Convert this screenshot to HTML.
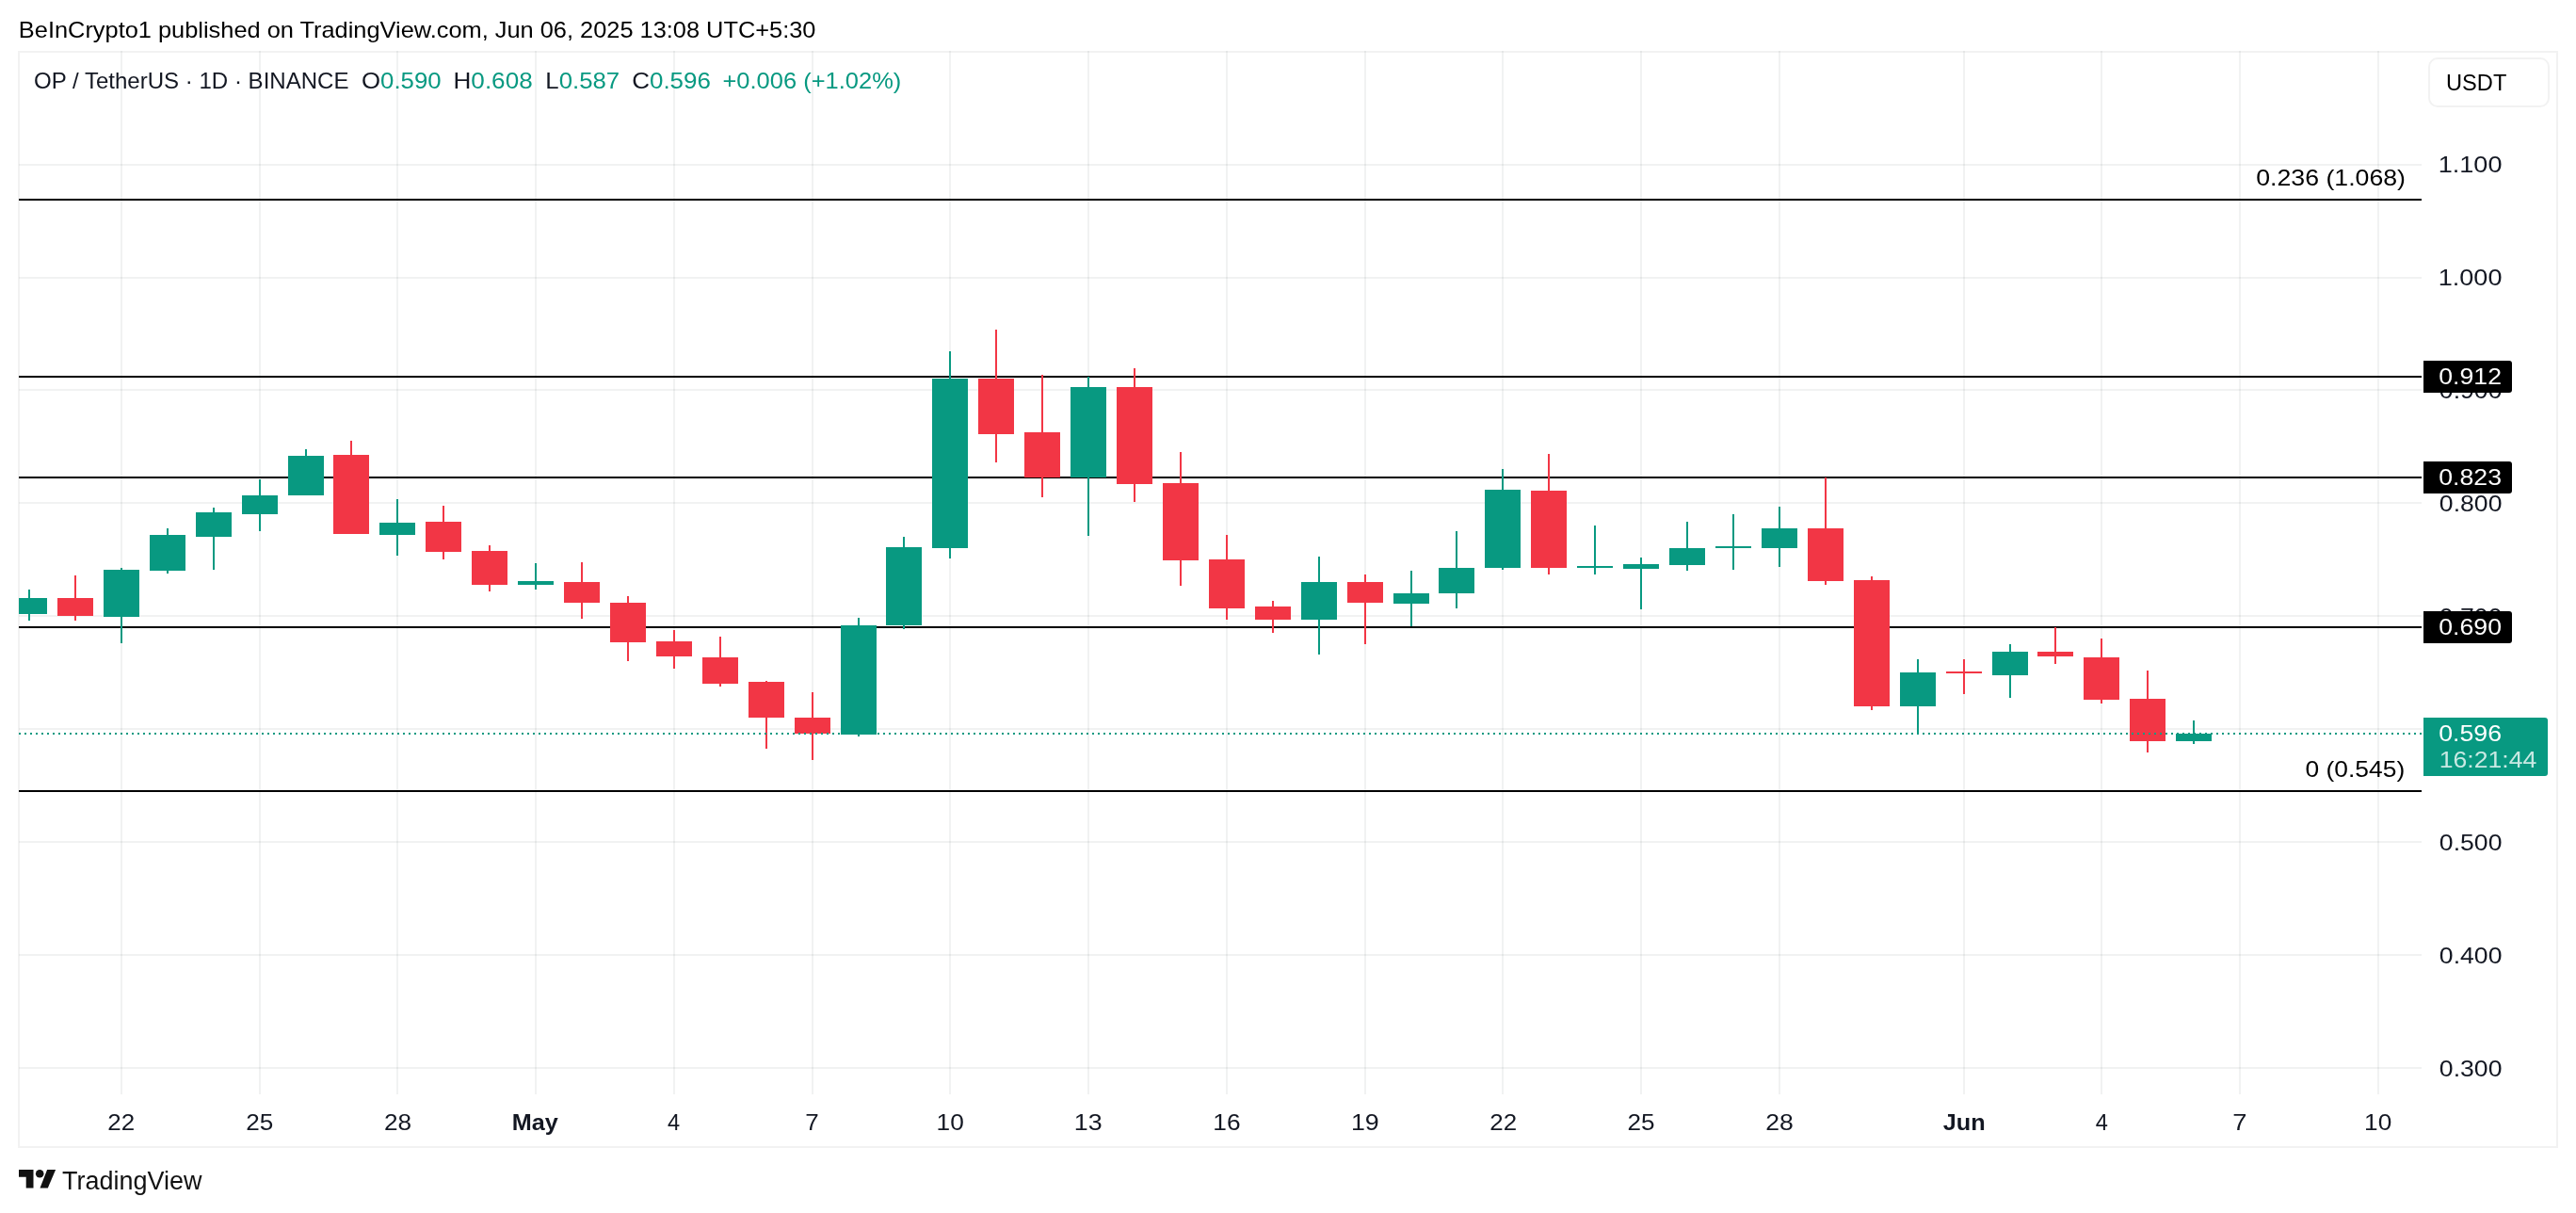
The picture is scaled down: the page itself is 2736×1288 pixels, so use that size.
<!DOCTYPE html><html><head><meta charset="utf-8"><title>OP / TetherUS chart</title>
<style>html,body{margin:0;padding:0;background:#fff;}body{width:2736px;height:1288px;overflow:hidden;}svg{will-change:transform;display:block;font-family:"Liberation Sans",sans-serif;}</style></head><body>
<svg width="2736" height="1288" viewBox="0 0 2736 1288">
<rect x="0" y="0" width="2736" height="1288" fill="#ffffff"/>
<rect x="20" y="55" width="2696" height="1163" fill="none" stroke="#F2F2F2" stroke-width="2"/>
<g fill="rgba(40,60,60,0.065)" shape-rendering="crispEdges">
<rect x="20" y="174" width="2552" height="2"/>
<rect x="20" y="294" width="2552" height="2"/>
<rect x="20" y="413" width="2552" height="2"/>
<rect x="20" y="533" width="2552" height="2"/>
<rect x="20" y="653" width="2552" height="2"/>
<rect x="20" y="773" width="2552" height="2"/>
<rect x="20" y="893" width="2552" height="2"/>
<rect x="20" y="1013" width="2552" height="2"/>
<rect x="20" y="1133" width="2552" height="2"/>
<rect x="128" y="54" width="2" height="1108"/>
<rect x="275" y="54" width="2" height="1108"/>
<rect x="421" y="54" width="2" height="1108"/>
<rect x="568" y="54" width="2" height="1108"/>
<rect x="715" y="54" width="2" height="1108"/>
<rect x="862" y="54" width="2" height="1108"/>
<rect x="1008" y="54" width="2" height="1108"/>
<rect x="1155" y="54" width="2" height="1108"/>
<rect x="1302" y="54" width="2" height="1108"/>
<rect x="1449" y="54" width="2" height="1108"/>
<rect x="1595" y="54" width="2" height="1108"/>
<rect x="1742" y="54" width="2" height="1108"/>
<rect x="1889" y="54" width="2" height="1108"/>
<rect x="2085" y="54" width="2" height="1108"/>
<rect x="2231" y="54" width="2" height="1108"/>
<rect x="2378" y="54" width="2" height="1108"/>
<rect x="2525" y="54" width="2" height="1108"/>
</g>
<g fill="#000" shape-rendering="crispEdges">
<rect x="20" y="211" width="2552" height="2"/>
<rect x="20" y="399" width="2552" height="2"/>
<rect x="20" y="506" width="2552" height="2"/>
<rect x="20" y="665" width="2552" height="2"/>
<rect x="20" y="839" width="2552" height="2"/>
</g>
<g shape-rendering="crispEdges">
<rect x="30" y="626" width="2" height="33" fill="#089981"/>
<rect x="20" y="635" width="30" height="17" fill="#089981"/>
<rect x="79" y="611" width="2" height="48" fill="#F23645"/>
<rect x="61" y="635" width="38" height="19" fill="#F23645"/>
<rect x="128" y="603" width="2" height="80" fill="#089981"/>
<rect x="110" y="605" width="38" height="50" fill="#089981"/>
<rect x="177" y="561" width="2" height="48" fill="#089981"/>
<rect x="159" y="568" width="38" height="38" fill="#089981"/>
<rect x="226" y="539" width="2" height="66" fill="#089981"/>
<rect x="208" y="544" width="38" height="26" fill="#089981"/>
<rect x="275" y="509" width="2" height="55" fill="#089981"/>
<rect x="257" y="526" width="38" height="20" fill="#089981"/>
<rect x="324" y="477" width="2" height="49" fill="#089981"/>
<rect x="306" y="484" width="38" height="42" fill="#089981"/>
<rect x="372" y="468" width="2" height="99" fill="#F23645"/>
<rect x="354" y="483" width="38" height="84" fill="#F23645"/>
<rect x="421" y="530" width="2" height="60" fill="#089981"/>
<rect x="403" y="555" width="38" height="13" fill="#089981"/>
<rect x="470" y="537" width="2" height="57" fill="#F23645"/>
<rect x="452" y="554" width="38" height="32" fill="#F23645"/>
<rect x="519" y="579" width="2" height="49" fill="#F23645"/>
<rect x="501" y="585" width="38" height="36" fill="#F23645"/>
<rect x="568" y="598" width="2" height="28" fill="#089981"/>
<rect x="550" y="617" width="38" height="4" fill="#089981"/>
<rect x="617" y="597" width="2" height="60" fill="#F23645"/>
<rect x="599" y="618" width="38" height="22" fill="#F23645"/>
<rect x="666" y="633" width="2" height="69" fill="#F23645"/>
<rect x="648" y="640" width="38" height="42" fill="#F23645"/>
<rect x="715" y="669" width="2" height="41" fill="#F23645"/>
<rect x="697" y="681" width="38" height="16" fill="#F23645"/>
<rect x="764" y="676" width="2" height="53" fill="#F23645"/>
<rect x="746" y="698" width="38" height="28" fill="#F23645"/>
<rect x="813" y="723" width="2" height="72" fill="#F23645"/>
<rect x="795" y="724" width="38" height="38" fill="#F23645"/>
<rect x="862" y="735" width="2" height="72" fill="#F23645"/>
<rect x="844" y="762" width="38" height="17" fill="#F23645"/>
<rect x="911" y="656" width="2" height="126" fill="#089981"/>
<rect x="893" y="664" width="38" height="116" fill="#089981"/>
<rect x="959" y="570" width="2" height="98" fill="#089981"/>
<rect x="941" y="581" width="38" height="83" fill="#089981"/>
<rect x="1008" y="373" width="2" height="220" fill="#089981"/>
<rect x="990" y="402" width="38" height="180" fill="#089981"/>
<rect x="1057" y="350" width="2" height="141" fill="#F23645"/>
<rect x="1039" y="402" width="38" height="59" fill="#F23645"/>
<rect x="1106" y="398" width="2" height="130" fill="#F23645"/>
<rect x="1088" y="459" width="38" height="48" fill="#F23645"/>
<rect x="1155" y="400" width="2" height="169" fill="#089981"/>
<rect x="1137" y="411" width="38" height="96" fill="#089981"/>
<rect x="1204" y="391" width="2" height="142" fill="#F23645"/>
<rect x="1186" y="411" width="38" height="103" fill="#F23645"/>
<rect x="1253" y="480" width="2" height="142" fill="#F23645"/>
<rect x="1235" y="513" width="38" height="82" fill="#F23645"/>
<rect x="1302" y="568" width="2" height="90" fill="#F23645"/>
<rect x="1284" y="594" width="38" height="52" fill="#F23645"/>
<rect x="1351" y="638" width="2" height="34" fill="#F23645"/>
<rect x="1333" y="644" width="38" height="14" fill="#F23645"/>
<rect x="1400" y="591" width="2" height="104" fill="#089981"/>
<rect x="1382" y="618" width="38" height="40" fill="#089981"/>
<rect x="1449" y="610" width="2" height="74" fill="#F23645"/>
<rect x="1431" y="618" width="38" height="22" fill="#F23645"/>
<rect x="1498" y="606" width="2" height="59" fill="#089981"/>
<rect x="1480" y="630" width="38" height="11" fill="#089981"/>
<rect x="1546" y="564" width="2" height="82" fill="#089981"/>
<rect x="1528" y="603" width="38" height="27" fill="#089981"/>
<rect x="1595" y="498" width="2" height="107" fill="#089981"/>
<rect x="1577" y="520" width="38" height="83" fill="#089981"/>
<rect x="1644" y="482" width="2" height="128" fill="#F23645"/>
<rect x="1626" y="521" width="38" height="82" fill="#F23645"/>
<rect x="1693" y="558" width="2" height="52" fill="#089981"/>
<rect x="1675" y="601" width="38" height="2" fill="#089981"/>
<rect x="1742" y="592" width="2" height="55" fill="#089981"/>
<rect x="1724" y="599" width="38" height="5" fill="#089981"/>
<rect x="1791" y="554" width="2" height="52" fill="#089981"/>
<rect x="1773" y="582" width="38" height="18" fill="#089981"/>
<rect x="1840" y="546" width="2" height="59" fill="#089981"/>
<rect x="1822" y="580" width="38" height="2" fill="#089981"/>
<rect x="1889" y="538" width="2" height="64" fill="#089981"/>
<rect x="1871" y="561" width="38" height="21" fill="#089981"/>
<rect x="1938" y="507" width="2" height="114" fill="#F23645"/>
<rect x="1920" y="561" width="38" height="56" fill="#F23645"/>
<rect x="1987" y="612" width="2" height="142" fill="#F23645"/>
<rect x="1969" y="616" width="38" height="134" fill="#F23645"/>
<rect x="2036" y="700" width="2" height="80" fill="#089981"/>
<rect x="2018" y="714" width="38" height="36" fill="#089981"/>
<rect x="2085" y="700" width="2" height="37" fill="#F23645"/>
<rect x="2067" y="713" width="38" height="2" fill="#F23645"/>
<rect x="2134" y="684" width="2" height="57" fill="#089981"/>
<rect x="2116" y="692" width="38" height="25" fill="#089981"/>
<rect x="2182" y="666" width="2" height="39" fill="#F23645"/>
<rect x="2164" y="692" width="38" height="5" fill="#F23645"/>
<rect x="2231" y="678" width="2" height="69" fill="#F23645"/>
<rect x="2213" y="698" width="38" height="45" fill="#F23645"/>
<rect x="2280" y="712" width="2" height="87" fill="#F23645"/>
<rect x="2262" y="742" width="38" height="45" fill="#F23645"/>
<rect x="2329" y="765" width="2" height="25" fill="#089981"/>
<rect x="2311" y="779" width="38" height="8" fill="#089981"/>
</g>
<line x1="20" y1="779" x2="2572" y2="779" stroke="#089981" stroke-width="2" stroke-dasharray="2 4" shape-rendering="crispEdges"/>
<text x="2589.74" y="183.0" font-size="24" fill="#131722" textLength="67.75" lengthAdjust="spacingAndGlyphs">1.100</text>
<text x="2589.74" y="303.0" font-size="24" fill="#131722" textLength="67.75" lengthAdjust="spacingAndGlyphs">1.000</text>
<text x="2590.89" y="423.0" font-size="24" fill="#131722" textLength="66.59" lengthAdjust="spacingAndGlyphs">0.900</text>
<text x="2590.89" y="543.0" font-size="24" fill="#131722" textLength="66.59" lengthAdjust="spacingAndGlyphs">0.800</text>
<text x="2590.89" y="663.0" font-size="24" fill="#131722" textLength="66.59" lengthAdjust="spacingAndGlyphs">0.700</text>
<text x="2590.89" y="783.0" font-size="24" fill="#131722" textLength="66.59" lengthAdjust="spacingAndGlyphs">0.600</text>
<text x="2590.89" y="903.0" font-size="24" fill="#131722" textLength="66.59" lengthAdjust="spacingAndGlyphs">0.500</text>
<text x="2590.89" y="1023.0" font-size="24" fill="#131722" textLength="66.59" lengthAdjust="spacingAndGlyphs">0.400</text>
<text x="2590.89" y="1143.0" font-size="24" fill="#131722" textLength="66.59" lengthAdjust="spacingAndGlyphs">0.300</text>
<path d="M2574 383 h91 a3 3 0 0 1 3 3 v28 a3 3 0 0 1 -3 3 h-91 z" fill="#000"/>
<path d="M2574 490 h91 a3 3 0 0 1 3 3 v28 a3 3 0 0 1 -3 3 h-91 z" fill="#000"/>
<path d="M2574 649 h91 a3 3 0 0 1 3 3 v28 a3 3 0 0 1 -3 3 h-91 z" fill="#000"/>
<path d="M2574 762 h129 a3 3 0 0 1 3 3 v56 a3 3 0 0 1 -3 3 h-129 z" fill="#089981"/>
<rect x="2580" y="62" width="127" height="51" rx="9" fill="#fff" stroke="#F2F2F2" stroke-width="2"/>
<g fill="#111111">
<path d="M20 1242 H35.5 V1261.5 H27.7 V1249.8 H20 Z"/>
<circle cx="42.2" cy="1246.3" r="4.3"/>
<path d="M50.1 1242 H59.1 L50.8 1261.5 H42.5 Z"/>
</g>
<text x="19.89" y="40.0" font-size="24" fill="#000" textLength="846.61" lengthAdjust="spacingAndGlyphs">BeInCrypto1 published on TradingView.com, Jun 06, 2025 13:08 UTC+5:30</text>
<text x="36.00" y="94.0" font-size="24" fill="#131722" textLength="334.49" lengthAdjust="spacingAndGlyphs">OP / TetherUS · 1D · BINANCE</text>
<text x="384.03" y="94.0" font-size="24" fill="#131722" textLength="84.56" lengthAdjust="spacingAndGlyphs"><tspan fill="#131722">O</tspan><tspan fill="#089981">0.590</tspan></text>
<text x="481.53" y="94.0" font-size="24" fill="#131722" textLength="84.11" lengthAdjust="spacingAndGlyphs"><tspan fill="#131722">H</tspan><tspan fill="#089981">0.608</tspan></text>
<text x="579.35" y="94.0" font-size="24" fill="#131722" textLength="78.88" lengthAdjust="spacingAndGlyphs"><tspan fill="#131722">L</tspan><tspan fill="#089981">0.587</tspan></text>
<text x="671.22" y="94.0" font-size="24" fill="#131722" textLength="83.70" lengthAdjust="spacingAndGlyphs"><tspan fill="#131722">C</tspan><tspan fill="#089981">0.596</tspan></text>
<text x="767.44" y="94.0" font-size="24" fill="#089981" textLength="189.87" lengthAdjust="spacingAndGlyphs">+0.006 (+1.02%)</text>
<text x="2598.03" y="96.0" font-size="24" fill="#000" textLength="64.31" lengthAdjust="spacingAndGlyphs">USDT</text>
<text x="2396.19" y="196.7" font-size="24" fill="#000" textLength="158.79" lengthAdjust="spacingAndGlyphs">0.236 (1.068)</text>
<text x="2448.60" y="825.0" font-size="24" fill="#000" textLength="105.57" lengthAdjust="spacingAndGlyphs">0 (0.545)</text>
<text x="66.00" y="1263.0" font-size="27" fill="#111" textLength="148.39" lengthAdjust="spacingAndGlyphs">TradingView</text>
<text x="2590.19" y="787.0" font-size="24" fill="#fff" textLength="66.79" lengthAdjust="spacingAndGlyphs">0.596</text>
<text x="2590.68" y="815.0" font-size="24" fill="#fff" fill-opacity="0.78" textLength="103.59" lengthAdjust="spacingAndGlyphs">16:21:44</text>
<text x="2590.29" y="408.0" font-size="24" fill="#fff" textLength="66.69" lengthAdjust="spacingAndGlyphs">0.912</text>
<text x="2590.29" y="515.0" font-size="24" fill="#fff" textLength="66.69" lengthAdjust="spacingAndGlyphs">0.823</text>
<text x="2590.29" y="674.0" font-size="24" fill="#fff" textLength="66.69" lengthAdjust="spacingAndGlyphs">0.690</text>
<text x="114.32" y="1199.9" font-size="24" fill="#131722" textLength="28.84" lengthAdjust="spacingAndGlyphs">22</text>
<text x="261.31" y="1199.9" font-size="24" fill="#131722" textLength="29.05" lengthAdjust="spacingAndGlyphs">25</text>
<text x="408.01" y="1199.9" font-size="24" fill="#131722" textLength="29.16" lengthAdjust="spacingAndGlyphs">28</text>
<text x="543.80" y="1199.9" font-size="24" font-weight="bold" fill="#131722" textLength="49.07" lengthAdjust="spacingAndGlyphs">May</text>
<text x="709.10" y="1199.9" font-size="24" fill="#131722" textLength="13.15" lengthAdjust="spacingAndGlyphs">4</text>
<text x="855.22" y="1199.9" font-size="24" fill="#131722" textLength="14.45" lengthAdjust="spacingAndGlyphs">7</text>
<text x="994.61" y="1199.9" font-size="24" fill="#131722" textLength="29.26" lengthAdjust="spacingAndGlyphs">10</text>
<text x="1140.87" y="1199.9" font-size="24" fill="#131722" textLength="29.82" lengthAdjust="spacingAndGlyphs">13</text>
<text x="1288.31" y="1199.9" font-size="24" fill="#131722" textLength="29.26" lengthAdjust="spacingAndGlyphs">16</text>
<text x="1434.97" y="1199.9" font-size="24" fill="#131722" textLength="29.82" lengthAdjust="spacingAndGlyphs">19</text>
<text x="1582.22" y="1199.9" font-size="24" fill="#131722" textLength="28.84" lengthAdjust="spacingAndGlyphs">22</text>
<text x="1728.51" y="1199.9" font-size="24" fill="#131722" textLength="29.05" lengthAdjust="spacingAndGlyphs">25</text>
<text x="1875.19" y="1199.9" font-size="24" fill="#131722" textLength="29.59" lengthAdjust="spacingAndGlyphs">28</text>
<text x="2063.80" y="1199.9" font-size="24" font-weight="bold" fill="#131722" textLength="44.86" lengthAdjust="spacingAndGlyphs">Jun</text>
<text x="2225.70" y="1199.9" font-size="24" fill="#131722" textLength="13.15" lengthAdjust="spacingAndGlyphs">4</text>
<text x="2371.36" y="1199.9" font-size="24" fill="#131722" textLength="15.18" lengthAdjust="spacingAndGlyphs">7</text>
<text x="2511.12" y="1199.9" font-size="24" fill="#131722" textLength="29.15" lengthAdjust="spacingAndGlyphs">10</text>
</svg></body></html>
